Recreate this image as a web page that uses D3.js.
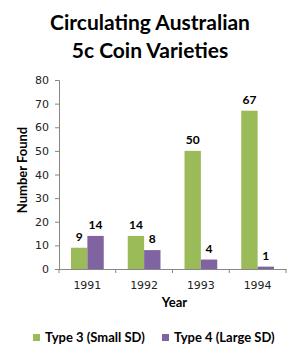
<!DOCTYPE html>
<html>
<head>
<meta charset="utf-8">
<script src="https://cdn.jsdelivr.net/npm/d3@7"></script>
<style>
body { margin: 0; background: #fff; }
</style>
</head>
<body>
<svg id="svg"></svg>
<script>
let years = ["1991", "1992", "1993", "1994"];
let seriesNames = ["Type 3 (Small SD)", "Type 4 (Large SD)"];
let type3Values = [9, 14, 50, 67];
let type4Values = [14, 8, 4, 1];
let yTicks = [0, 10, 20, 30, 40, 50, 60, 70, 80];
let colors = ["#9bbb59", "#8064a2"];

const width = 300;
const height = 357;
const margin = { top: 80, right: 14, bottom: 88, left: 59 };
const chartWidth = width - margin.left - margin.right;
const chartHeight = height - margin.top - margin.bottom;

let svg = d3.select("#svg").attr("width", width).attr("height", height);
let chart = svg.append("g").attr("transform", `translate(${margin.left},${margin.top})`);

let xScale = d3.scaleBand().domain(years).range([0, chartWidth]).paddingInner(0).paddingOuter(0);
let inner = d3.scaleBand().domain([0, 1]).range([12, xScale.bandwidth() - 12]);
let yScale = d3.scaleLinear().domain([0, 80]).range([chartHeight, 0]);

// Title
svg.append("text")
    .attr("x", 150).attr("text-anchor", "middle")
    .style("font", "bold 21px Lato, sans-serif")
    .selectAll("tspan")
    .data(["Circulating Australian", "5c Coin Varieties"])
    .enter().append("tspan")
    .attr("x", 150)
    .attr("y", (d, i) => 30 + i * 28)
    .text(d => d);

// Bars
let series = [type3Values, type4Values];
series.forEach((vals, s) => {
    chart.selectAll(".bar" + s)
        .data(vals)
        .enter().append("rect")
        .attr("x", (d, i) => xScale(years[i]) + inner(s))
        .attr("y", d => yScale(d))
        .attr("width", inner.bandwidth())
        .attr("height", d => chartHeight - yScale(d))
        .attr("fill", colors[s]);

    chart.selectAll(".lbl" + s)
        .data(vals)
        .enter().append("text")
        .attr("x", (d, i) => xScale(years[i]) + inner(s) + inner.bandwidth() / 2)
        .attr("y", d => yScale(d) - 7)
        .attr("text-anchor", "middle")
        .style("font", "bold 12px Lato, sans-serif")
        .attr("fill", "#000")
        .text(d => d);
});

// y axis
let yAxis = chart.append("g")
    .call(d3.axisLeft(yScale).tickValues(yTicks).tickSize(4).tickPadding(6));
yAxis.select(".domain").attr("stroke", "#868686");
yAxis.selectAll(".tick line").attr("stroke", "#868686");
yAxis.selectAll("text").style("font", "11px 'DejaVu Sans', sans-serif").attr("fill", "#222");

// x axis
let xAxis = chart.append("g")
    .attr("transform", `translate(0,${chartHeight})`)
    .call(d3.axisBottom(xScale).tickSize(0).tickPadding(12));
xAxis.select(".domain").attr("stroke", "#868686");
xAxis.selectAll("text").style("font", "11px 'DejaVu Sans', sans-serif").attr("fill", "#222");
xAxis.selectAll(".sep")
    .data(years.concat(["end"]))
    .enter().append("line")
    .attr("x1", (d, i) => i * xScale.bandwidth())
    .attr("x2", (d, i) => i * xScale.bandwidth())
    .attr("y1", 0).attr("y2", 4)
    .attr("stroke", "#868686");

// Axis titles
svg.append("text")
    .attr("x", margin.left + chartWidth / 2 + 2).attr("y", 307)
    .attr("text-anchor", "middle")
    .style("font", "bold 13px Lato, sans-serif")
    .text("Year");

svg.append("text")
    .attr("transform", "translate(27,170) rotate(-90)")
    .attr("text-anchor", "middle")
    .style("font", "bold 13px Lato, sans-serif")
    .text("Number Found");

// Legend
let legendX = [33, 162];
let legend = svg.selectAll(".legend")
    .data(seriesNames)
    .enter().append("g")
    .attr("transform", (d, i) => `translate(${legendX[i]},338)`);
legend.append("rect")
    .attr("x", 0).attr("y", -4).attr("width", 7).attr("height", 7)
    .attr("fill", (d, i) => colors[i]);
legend.append("text")
    .attr("x", 12).attr("y", 4)
    .style("font", "bold 13px Lato, sans-serif")
    .text(d => d);
</script>
</body>
</html>
